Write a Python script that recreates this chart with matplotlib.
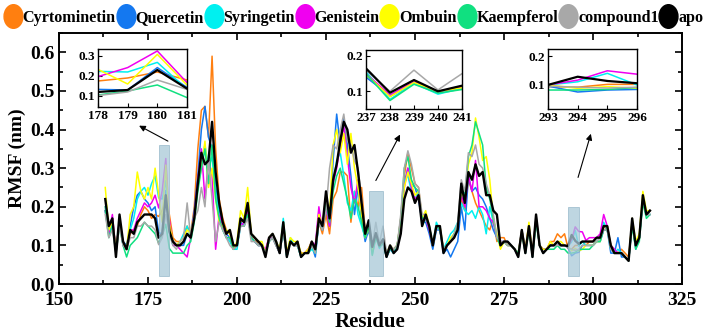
import numpy as np
import matplotlib.pyplot as plt
from matplotlib.lines import Line2D
from matplotlib.markers import MarkerStyle
from matplotlib.patches import Rectangle
from matplotlib.ticker import MultipleLocator
from matplotlib.transforms import Affine2D

plt.rcParams['font.family'] = ['Liberation Serif', 'DejaVu Serif']
plt.rcParams['font.weight'] = 'bold'

residue = np.arange(163, 317)

# RMSF values (nm), residues 163-316, ten per row
cyrtominetin = [
    0.20, 0.13, 0.17, 0.09, 0.16, 0.11, 0.09, 0.13, 0.14, 0.15,
    0.18, 0.20, 0.19, 0.17, 0.18, 0.175, 0.19, 0.22, 0.18, 0.12,
    0.11, 0.11, 0.12, 0.15, 0.13, 0.20, 0.35, 0.45, 0.46, 0.38,
    0.59, 0.35, 0.22, 0.17, 0.14, 0.13, 0.10, 0.10, 0.16, 0.17,
    0.20, 0.12, 0.12, 0.10, 0.10, 0.08, 0.12, 0.12, 0.10, 0.08,
    0.15, 0.08, 0.11, 0.10, 0.10, 0.08, 0.08, 0.09, 0.10, 0.09,
    0.16, 0.13, 0.18, 0.13, 0.22, 0.24, 0.29, 0.29, 0.28, 0.16,
    0.24, 0.20, 0.25, 0.14, 0.146, 0.085, 0.125, 0.10, 0.11, 0.08,
    0.09, 0.09, 0.10, 0.17, 0.28, 0.34, 0.30, 0.26, 0.25, 0.17,
    0.17, 0.14, 0.10, 0.15, 0.14, 0.09, 0.10, 0.11, 0.12, 0.15,
    0.22, 0.19, 0.27, 0.24, 0.21, 0.19, 0.17, 0.15, 0.14, 0.17,
    0.11, 0.12, 0.12, 0.10, 0.10, 0.09, 0.08, 0.13, 0.09, 0.14,
    0.08, 0.17, 0.10, 0.09, 0.09, 0.11, 0.11, 0.13, 0.12, 0.13,
    0.092, 0.09, 0.10, 0.10, 0.11, 0.10, 0.11, 0.11, 0.12, 0.12,
    0.15, 0.14, 0.10, 0.09, 0.08, 0.09, 0.08, 0.07, 0.16, 0.10,
    0.12, 0.22, 0.18, 0.19]
quercetin = [
    0.19, 0.13, 0.16, 0.09, 0.16, 0.11, 0.10, 0.15, 0.20, 0.23,
    0.24, 0.22, 0.21, 0.19, 0.20, 0.133, 0.13, 0.242, 0.143, 0.11,
    0.10, 0.10, 0.10, 0.13, 0.12, 0.19, 0.28, 0.40, 0.46, 0.38,
    0.35, 0.25, 0.19, 0.15, 0.13, 0.12, 0.09, 0.10, 0.16, 0.15,
    0.18, 0.12, 0.11, 0.10, 0.10, 0.08, 0.12, 0.12, 0.10, 0.08,
    0.14, 0.07, 0.11, 0.10, 0.10, 0.07, 0.08, 0.08, 0.10, 0.07,
    0.16, 0.14, 0.20, 0.15, 0.32, 0.44, 0.36, 0.43, 0.36, 0.28,
    0.18, 0.25, 0.17, 0.11, 0.14, 0.088, 0.122, 0.10, 0.108, 0.07,
    0.09, 0.08, 0.09, 0.15, 0.26, 0.30, 0.26, 0.25, 0.22, 0.16,
    0.16, 0.13, 0.09, 0.14, 0.14, 0.08, 0.09, 0.07, 0.09, 0.11,
    0.20, 0.14, 0.28, 0.24, 0.25, 0.23, 0.22, 0.20, 0.17, 0.14,
    0.12, 0.10, 0.11, 0.11, 0.10, 0.09, 0.07, 0.14, 0.08, 0.15,
    0.07, 0.17, 0.10, 0.08, 0.09, 0.10, 0.10, 0.11, 0.10, 0.10,
    0.094, 0.073, 0.08, 0.082, 0.10, 0.10, 0.10, 0.10, 0.11, 0.11,
    0.14, 0.14, 0.08, 0.08, 0.12, 0.07, 0.07, 0.06, 0.16, 0.09,
    0.12, 0.22, 0.18, 0.18]
syringetin = [
    0.20, 0.13, 0.15, 0.09, 0.16, 0.10, 0.09, 0.14, 0.17, 0.22,
    0.24, 0.25, 0.23, 0.26, 0.28, 0.223, 0.22, 0.268, 0.133, 0.10,
    0.10, 0.11, 0.13, 0.15, 0.12, 0.18, 0.25, 0.32, 0.36, 0.30,
    0.33, 0.24, 0.17, 0.14, 0.12, 0.11, 0.09, 0.09, 0.15, 0.15,
    0.19, 0.12, 0.11, 0.10, 0.10, 0.08, 0.11, 0.12, 0.11, 0.08,
    0.17, 0.07, 0.12, 0.10, 0.10, 0.07, 0.08, 0.08, 0.09, 0.08,
    0.17, 0.15, 0.22, 0.16, 0.26, 0.32, 0.34, 0.28, 0.21, 0.19,
    0.24, 0.18, 0.15, 0.12, 0.156, 0.077, 0.123, 0.092, 0.108, 0.07,
    0.09, 0.08, 0.10, 0.15, 0.27, 0.28, 0.24, 0.22, 0.24, 0.15,
    0.17, 0.15, 0.10, 0.16, 0.14, 0.09, 0.11, 0.13, 0.14, 0.16,
    0.21, 0.19, 0.18, 0.19, 0.17, 0.20, 0.18, 0.13, 0.20, 0.16,
    0.12, 0.11, 0.11, 0.10, 0.10, 0.09, 0.08, 0.14, 0.09, 0.14,
    0.08, 0.17, 0.10, 0.09, 0.09, 0.10, 0.10, 0.10, 0.10, 0.10,
    0.098, 0.109, 0.139, 0.098, 0.11, 0.10, 0.10, 0.10, 0.11, 0.12,
    0.16, 0.14, 0.10, 0.08, 0.09, 0.08, 0.07, 0.06, 0.16, 0.10,
    0.12, 0.22, 0.18, 0.19]
genistein = [
    0.19, 0.13, 0.18, 0.08, 0.17, 0.10, 0.09, 0.14, 0.14, 0.17,
    0.19, 0.21, 0.20, 0.21, 0.23, 0.197, 0.242, 0.325, 0.167, 0.10,
    0.10, 0.09, 0.08, 0.07, 0.12, 0.18, 0.27, 0.35, 0.22, 0.32,
    0.28, 0.09, 0.18, 0.15, 0.12, 0.12, 0.09, 0.10, 0.15, 0.16,
    0.19, 0.12, 0.11, 0.10, 0.10, 0.09, 0.12, 0.12, 0.10, 0.08,
    0.15, 0.08, 0.11, 0.10, 0.10, 0.08, 0.08, 0.09, 0.11, 0.10,
    0.20, 0.14, 0.20, 0.15, 0.26, 0.30, 0.36, 0.41, 0.33, 0.25,
    0.21, 0.27, 0.19, 0.12, 0.15, 0.09, 0.127, 0.10, 0.112, 0.07,
    0.09, 0.09, 0.10, 0.15, 0.25, 0.30, 0.25, 0.22, 0.23, 0.16,
    0.17, 0.14, 0.10, 0.15, 0.14, 0.09, 0.10, 0.11, 0.12, 0.15,
    0.23, 0.20, 0.28, 0.24, 0.32, 0.20, 0.20, 0.19, 0.17, 0.16,
    0.12, 0.11, 0.11, 0.10, 0.10, 0.09, 0.08, 0.14, 0.09, 0.15,
    0.08, 0.17, 0.10, 0.09, 0.09, 0.10, 0.10, 0.10, 0.10, 0.10,
    0.098, 0.115, 0.148, 0.136, 0.135, 0.113, 0.12, 0.12, 0.12, 0.13,
    0.18, 0.15, 0.10, 0.09, 0.08, 0.08, 0.07, 0.06, 0.16, 0.10,
    0.12, 0.22, 0.18, 0.19]
ombuin = [
    0.25, 0.14, 0.16, 0.09, 0.16, 0.11, 0.09, 0.18, 0.20, 0.29,
    0.24, 0.22, 0.25, 0.22, 0.30, 0.233, 0.16, 0.308, 0.155, 0.11,
    0.10, 0.11, 0.12, 0.14, 0.13, 0.17, 0.25, 0.30, 0.37, 0.25,
    0.30, 0.22, 0.16, 0.15, 0.14, 0.13, 0.09, 0.11, 0.19, 0.17,
    0.25, 0.13, 0.12, 0.11, 0.11, 0.08, 0.12, 0.13, 0.11, 0.09,
    0.16, 0.08, 0.12, 0.11, 0.11, 0.08, 0.08, 0.09, 0.11, 0.09,
    0.18, 0.15, 0.23, 0.18, 0.36, 0.40, 0.34, 0.39, 0.31, 0.39,
    0.30, 0.25, 0.18, 0.12, 0.148, 0.085, 0.125, 0.10, 0.11, 0.08,
    0.10, 0.09, 0.10, 0.16, 0.25, 0.29, 0.26, 0.23, 0.24, 0.17,
    0.19, 0.15, 0.10, 0.15, 0.15, 0.09, 0.10, 0.12, 0.13, 0.15,
    0.24, 0.22, 0.31, 0.34, 0.43, 0.38, 0.32, 0.33, 0.27, 0.17,
    0.13, 0.09, 0.11, 0.10, 0.10, 0.09, 0.08, 0.14, 0.09, 0.16,
    0.08, 0.17, 0.10, 0.09, 0.09, 0.11, 0.10, 0.11, 0.11, 0.10,
    0.098, 0.086, 0.092, 0.086, 0.09, 0.10, 0.10, 0.10, 0.11, 0.11,
    0.15, 0.15, 0.10, 0.08, 0.08, 0.08, 0.07, 0.06, 0.17, 0.11,
    0.13, 0.24, 0.19, 0.19]
kaempferol = [
    0.19, 0.12, 0.15, 0.08, 0.15, 0.10, 0.07, 0.10, 0.11, 0.12,
    0.14, 0.16, 0.15, 0.14, 0.13, 0.105, 0.125, 0.155, 0.092, 0.08,
    0.08, 0.08, 0.08, 0.10, 0.11, 0.16, 0.24, 0.30, 0.35, 0.26,
    0.36, 0.22, 0.17, 0.14, 0.12, 0.12, 0.09, 0.10, 0.15, 0.15,
    0.18, 0.12, 0.11, 0.10, 0.10, 0.08, 0.11, 0.12, 0.10, 0.08,
    0.14, 0.07, 0.11, 0.10, 0.10, 0.07, 0.08, 0.08, 0.10, 0.08,
    0.16, 0.14, 0.21, 0.16, 0.24, 0.28, 0.30, 0.26, 0.22, 0.17,
    0.22, 0.20, 0.16, 0.12, 0.15, 0.074, 0.12, 0.095, 0.105, 0.07,
    0.09, 0.09, 0.10, 0.17, 0.30, 0.33, 0.27, 0.25, 0.24, 0.17,
    0.17, 0.15, 0.10, 0.15, 0.14, 0.09, 0.10, 0.11, 0.13, 0.15,
    0.25, 0.23, 0.33, 0.36, 0.42, 0.39, 0.36, 0.25, 0.22, 0.17,
    0.12, 0.10, 0.11, 0.10, 0.10, 0.09, 0.08, 0.13, 0.08, 0.14,
    0.07, 0.16, 0.10, 0.08, 0.09, 0.09, 0.09, 0.10, 0.09, 0.09,
    0.08, 0.08, 0.082, 0.089, 0.09, 0.09, 0.09, 0.10, 0.11, 0.11,
    0.14, 0.14, 0.09, 0.08, 0.08, 0.08, 0.07, 0.06, 0.15, 0.09,
    0.11, 0.21, 0.17, 0.18]
compound1 = [
    0.18, 0.12, 0.14, 0.08, 0.15, 0.10, 0.09, 0.12, 0.12, 0.15,
    0.15, 0.16, 0.15, 0.15, 0.14, 0.102, 0.12, 0.18, 0.133, 0.10,
    0.09, 0.11, 0.12, 0.21, 0.12, 0.17, 0.19, 0.25, 0.20, 0.32,
    0.22, 0.11, 0.16, 0.14, 0.12, 0.10, 0.09, 0.10, 0.15, 0.15,
    0.17, 0.11, 0.11, 0.10, 0.10, 0.08, 0.11, 0.12, 0.10, 0.08,
    0.14, 0.07, 0.11, 0.10, 0.10, 0.07, 0.08, 0.08, 0.10, 0.08,
    0.16, 0.14, 0.19, 0.30, 0.36, 0.35, 0.40, 0.44, 0.37, 0.36,
    0.32, 0.30, 0.22, 0.14, 0.16, 0.10, 0.16, 0.104, 0.15, 0.08,
    0.10, 0.09, 0.10, 0.18, 0.30, 0.345, 0.31, 0.26, 0.25, 0.18,
    0.18, 0.15, 0.10, 0.15, 0.15, 0.09, 0.10, 0.11, 0.13, 0.16,
    0.27, 0.24, 0.34, 0.33, 0.36, 0.31, 0.30, 0.26, 0.23, 0.18,
    0.12, 0.11, 0.11, 0.10, 0.10, 0.09, 0.07, 0.14, 0.08, 0.15,
    0.07, 0.18, 0.10, 0.08, 0.09, 0.10, 0.10, 0.10, 0.10, 0.10,
    0.094, 0.09, 0.087, 0.09, 0.10, 0.10, 0.10, 0.10, 0.11, 0.12,
    0.14, 0.14, 0.09, 0.08, 0.08, 0.08, 0.07, 0.06, 0.16, 0.10,
    0.12, 0.22, 0.18, 0.18]
apo = [
    0.22, 0.15, 0.17, 0.07, 0.18, 0.11, 0.09, 0.14, 0.13, 0.16,
    0.17, 0.18, 0.18, 0.18, 0.17, 0.12, 0.13, 0.23, 0.137, 0.11,
    0.10, 0.10, 0.11, 0.13, 0.12, 0.17, 0.26, 0.34, 0.31, 0.32,
    0.42, 0.29, 0.21, 0.16, 0.13, 0.14, 0.10, 0.10, 0.17, 0.16,
    0.21, 0.13, 0.12, 0.11, 0.10, 0.07, 0.12, 0.13, 0.11, 0.08,
    0.16, 0.07, 0.11, 0.10, 0.11, 0.07, 0.08, 0.08, 0.11, 0.09,
    0.17, 0.15, 0.24, 0.17, 0.27, 0.31, 0.37, 0.42, 0.40, 0.34,
    0.36, 0.29, 0.21, 0.13, 0.165, 0.096, 0.132, 0.10, 0.116, 0.07,
    0.10, 0.08, 0.09, 0.13, 0.22, 0.25, 0.24, 0.21, 0.23, 0.15,
    0.18, 0.15, 0.10, 0.15, 0.15, 0.08, 0.10, 0.11, 0.12, 0.14,
    0.26, 0.21, 0.29, 0.27, 0.31, 0.28, 0.29, 0.23, 0.23, 0.19,
    0.18, 0.10, 0.11, 0.11, 0.10, 0.09, 0.07, 0.14, 0.08, 0.15,
    0.07, 0.18, 0.10, 0.08, 0.09, 0.10, 0.10, 0.11, 0.10, 0.10,
    0.098, 0.127, 0.112, 0.104, 0.11, 0.11, 0.11, 0.11, 0.12, 0.12,
    0.15, 0.15, 0.10, 0.08, 0.08, 0.08, 0.07, 0.06, 0.17, 0.10,
    0.12, 0.23, 0.18, 0.19]

names = ['Cyrtominetin', 'Quercetin', 'Syringetin', 'Genistein',
         'Ombuin', 'Kaempferol', 'compound1', 'apo']
series = [cyrtominetin, quercetin, syringetin, genistein,
          ombuin, kaempferol, compound1, apo]
colors = ['#FF7F10', '#1478F0', '#00F0F0', '#F000F0',
          '#FFFF00', '#10E080', '#A8A8A8', '#000000']

# zoomed windows: (x range, y range, ylim, yticks, axes rect)
windows = [
    ((178, 181), (0.02, 0.36), (0.045, 0.335), [0.1, 0.2, 0.3], [0.1384, 0.6787, 0.1257, 0.1742]),
    ((237, 241), (0.02, 0.24), (0.05, 0.217), [0.1, 0.2], [0.5169, 0.6727, 0.1356, 0.1772]),
    ((293, 296), (0.02, 0.20), (0.013, 0.225), [0.1, 0.2], [0.7740, 0.6727, 0.1257, 0.1802]),
]
arrows = [((180.6, 0.37), (172.5, 0.41)),
          ((239.0, 0.268), (245.8, 0.387)),
          ((295.8, 0.276), (299.4, 0.389))]

fig = plt.figure(figsize=(7.08, 3.33), dpi=100)
ax = fig.add_axes([0.0833, 0.1471, 0.88, 0.7538])

for vals, c in zip(series, colors):
    lw = 1.7 if c == '#000000' else 1.1
    ax.plot(residue, vals, color=c, lw=lw)

for (x0, x1), (y0, y1), _, _, _ in windows:
    ax.add_patch(Rectangle((x0, y0), x1 - x0, y1 - y0, facecolor='#a9c9d8',
                           edgecolor='#8fb3c5', lw=0.6, alpha=0.75, zorder=5))

for tail, head in arrows:
    ax.annotate('', xy=head, xytext=tail,
                arrowprops=dict(arrowstyle='-|>', color='black', lw=0.8,
                                mutation_scale=9, shrinkA=0, shrinkB=0))

ax.set_xlim(150, 325)
ax.set_ylim(0, 0.65)
ax.xaxis.set_major_locator(MultipleLocator(25))
ax.xaxis.set_minor_locator(MultipleLocator(12.5))
ax.yaxis.set_major_locator(MultipleLocator(0.1))
ax.yaxis.set_minor_locator(MultipleLocator(0.05))
ax.tick_params(which='both', direction='in', top=True, right=True, width=1.2)
ax.tick_params(which='major', length=5, labelsize=14)
ax.tick_params(axis='x', which='major', pad=6)
ax.tick_params(axis='y', which='major', pad=3)
ax.tick_params(which='minor', length=3)
for s in ax.spines.values():
    s.set_linewidth(1.4)
ax.set_xlabel('Residue', fontsize=15, fontweight='bold', labelpad=2)
ax.set_ylabel('RMSF (nm)', fontsize=14, fontweight='bold', labelpad=3)

for (x0, x1), _, ylim, yt, rect in windows:
    ins = fig.add_axes(rect)
    for vals, c in zip(series, colors):
        lw = 1.6 if c == '#000000' else 1.1
        ins.plot(residue, vals, color=c, lw=lw)
    ins.set_xlim(x0, x1)
    ins.set_ylim(*ylim)
    ins.set_xticks(np.arange(x0, x1 + 1))
    ins.set_yticks(yt)
    ins.tick_params(direction='in', length=3, labelsize=9.5, pad=2)
    for s in ins.spines.values():
        s.set_linewidth(1.0)

oval = MarkerStyle('o', transform=Affine2D().scale(0.8, 1.0))
handles = [Line2D([], [], ls='none', marker=oval, markersize=17, color=c) for c in colors]
fig.legend(handles, names, loc='center', bbox_to_anchor=(0.5, 0.946), ncol=8,
           frameon=False, handlelength=1.0, handletextpad=0.12,
           columnspacing=0.1, borderpad=0, borderaxespad=0,
           prop={'weight': 'bold', 'size': 11.6})

fig.savefig('out.png', dpi=100)
